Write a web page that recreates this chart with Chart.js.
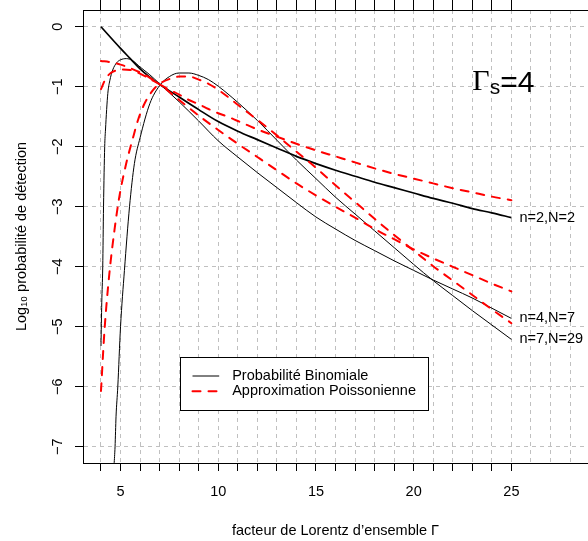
<!DOCTYPE html>
<html>
<head>
<meta charset="utf-8">
<script src="https://cdn.jsdelivr.net/npm/chart.js@4.4.1/dist/chart.umd.min.js"></script>
<style>
  html, body { margin: 0; padding: 0; background: #fff; overflow: hidden; }
</style>
</head>
<body>
<canvas id="chart" width="588" height="541"></canvas>
<script>
// --- values: Gamma (x) vs log10 detection probability (y) ---

// binomial, n=2 N=2
const xBin2 = [4, 5, 5.5, 6, 6.5, 7, 8, 9, 10, 11, 12, 13, 14, 15, 16, 17, 18, 19, 20, 21, 22, 23, 24, 25];
const yBin2 = [0, -0.36, -0.53, -0.7, -0.84, -0.96, -1.17, -1.38, -1.58, -1.74, -1.88, -2.02, -2.16, -2.28, -2.39, -2.49, -2.59, -2.68, -2.77, -2.86, -2.94, -3.03, -3.1, -3.18];

// binomial, n=4 N=7
const xBin4 = [4, 4.04, 4.09, 4.13, 4.19, 4.23, 4.35, 4.45, 4.6, 4.8, 5, 5.3, 5.6, 6, 6.5, 7, 8, 9, 10, 11, 12, 13, 14, 15, 16, 17, 18, 19, 20, 21, 22, 23, 24, 25];
const yBin4 = [-5.32, -4.6, -4.0, -3.0, -2.0, -1.72, -1.11, -0.9, -0.72, -0.6, -0.55, -0.53, -0.56, -0.67, -0.8, -0.95, -1.25, -1.57, -1.9, -2.17, -2.43, -2.68, -2.93, -3.17, -3.37, -3.56, -3.73, -3.9, -4.06, -4.22, -4.37, -4.52, -4.69, -4.86];

// binomial, n=7 N=29
const xBin7 = [4.67, 4.72, 4.77, 4.86, 5, 5.2, 5.46, 5.71, 6, 6.5, 7, 7.5, 8, 8.5, 9, 9.5, 10, 11, 12, 13, 14, 15, 16, 17, 18, 19, 20, 21, 22, 23, 24, 25];
const yBin7 = [-7.3, -7.0, -6.5, -6.0, -5.0, -4.06, -3.0, -2.28, -1.85, -1.28, -0.98, -0.83, -0.77, -0.77, -0.81, -0.88, -0.99, -1.26, -1.56, -1.89, -2.22, -2.53, -2.84, -3.12, -3.4, -3.68, -3.96, -4.23, -4.48, -4.73, -4.97, -5.21];

// Poisson approximation, n=2
const xPoi2 = [4, 4.5, 5, 5.5, 6, 6.5, 7, 7.5, 8, 8.5, 9, 9.5, 10, 10.5, 11, 11.5, 12, 13, 14, 15, 16, 17, 18, 19, 20, 21, 22, 23, 24, 25];
const yPoi2 = [-0.57, -0.59, -0.63, -0.69, -0.76, -0.85, -0.96, -1.05, -1.13, -1.22, -1.29, -1.37, -1.44, -1.5, -1.57, -1.64, -1.71, -1.83, -1.95, -2.06, -2.16, -2.26, -2.36, -2.45, -2.53, -2.61, -2.69, -2.76, -2.83, -2.89];

// Poisson approximation, n=4
const xPoi4 = [4, 4.25, 4.5, 4.75, 5, 5.5, 6, 6.5, 7, 8, 9, 10, 11, 12, 13, 14, 15, 16, 17, 18, 19, 20, 21, 22, 23, 24, 25];
const yPoi4 = [-1.04, -0.86, -0.77, -0.73, -0.71, -0.72, -0.78, -0.87, -0.96, -1.22, -1.48, -1.72, -1.95, -2.17, -2.39, -2.61, -2.81, -3.0, -3.18, -3.37, -3.54, -3.71, -3.86, -4.0, -4.14, -4.28, -4.41];

// Poisson approximation, n=7
const xPoi7 = [4, 4.18, 4.43, 4.69, 4.94, 5.29, 5.63, 5.9, 6.2, 6.6, 7, 7.5, 8, 8.5, 9, 9.5, 10, 10.5, 11, 12, 13, 14, 15, 16, 17, 18, 19, 20, 21, 22, 23, 24, 25];
const yPoi7 = [-6.07, -5.06, -4.11, -3.39, -2.83, -2.28, -1.86, -1.55, -1.3, -1.08, -0.95, -0.87, -0.83, -0.83, -0.88, -0.95, -1.05, -1.17, -1.3, -1.55, -1.81, -2.08, -2.35, -2.64, -2.92, -3.2, -3.47, -3.73, -3.99, -4.23, -4.47, -4.71, -4.94];

// axes
const xGrid = [4, 5, 6, 7, 8, 9, 10, 11, 12, 13, 14, 15, 16, 17, 18, 19, 20, 21, 22, 23, 24, 25, 26, 27, 28];
const xTickMarks = [4, 5, 6, 7, 8, 9, 10, 11, 12, 13, 14, 15, 16, 17, 18, 19, 20, 21, 22, 23, 24, 25];
const xTickLabels = [5, 10, 15, 20, 25];
const yTicks = [-7, -6, -5, -4, -3, -2, -1, 0];

// text
const curveLabels = ['n=2,N=2', 'n=4,N=7', 'n=7,N=29'];
const legendLabels = ['Probabilité Binomiale', 'Approximation Poissonienne'];
const xTitle = 'facteur de Lorentz d\u2019ensemble \u0393';
const yTitle = 'Log\u2081\u2080 probabilité de détection';

const SANS = '"Liberation Sans", Arial, Helvetica, sans-serif';
const SERIF = '"Liberation Serif", "Times New Roman", serif';
Chart.defaults.font.family = SANS;
Chart.defaults.font.size = 14.5;
Chart.defaults.color = '#000';

const pts = (xs, ys) => xs.map((v, i) => ({x: v, y: ys[i]}));
const black = (data, w) => ({
  data, borderColor: '#000', borderWidth: w, pointRadius: 0,
  cubicInterpolationMode: 'monotone', clip: 0
});
const red = data => ({
  data, borderColor: '#ff0000', borderWidth: 2, borderDash: [8, 8],
  borderCapStyle: 'round', pointRadius: 0, cubicInterpolationMode: 'monotone', clip: 0
});

const minus = v => (v < 0 ? '\u2212' + Math.abs(v) : String(v));
const setTicks = vals => axis => { axis.ticks = vals.map(value => ({value})); };

// --- curve labels, Gamma_s text and the boxed legend ---
const annotations = {
  id: 'annotations',
  afterDraw(chart, args, opts) {
    const {ctx, scales: {x, y}} = chart;
    ctx.save();

    // labels at the right end of the binomial curves
    ctx.font = '14.5px ' + SANS;
    ctx.fillStyle = '#000';
    ctx.textBaseline = 'middle';
    ctx.textAlign = 'left';
    const ends = [yBin2, yBin4, yBin7].map(a => a[a.length - 1]);
    curveLabels.forEach((t, i) => {
      ctx.fillText(t, x.getPixelForValue(25) + 8, y.getPixelForValue(ends[i]));
    });

    // Gamma_s = 4
    let gx = x.getPixelForValue(opts.gammaAt[0]);
    const gy = y.getPixelForValue(opts.gammaAt[1]);
    ctx.textBaseline = 'alphabetic';
    ctx.font = '30px ' + SERIF;
    ctx.fillText('\u0393', gx, gy);
    gx += ctx.measureText('\u0393').width;
    ctx.font = '21px ' + SANS;
    ctx.fillText('s', gx, gy + 4);
    gx += ctx.measureText('s').width;
    ctx.font = '30px ' + SANS;
    ctx.fillText('=4', gx, gy + 2);

    // legend
    const left = Math.round(x.getPixelForValue(opts.legendAt[0])) + 0.5;
    const top = Math.round(y.getPixelForValue(opts.legendAt[1])) + 0.5;
    const w = 248, h = 53;
    ctx.fillStyle = '#fff';
    ctx.fillRect(left, top, w, h);
    ctx.strokeStyle = '#000';
    ctx.lineWidth = 1;
    ctx.strokeRect(left, top, w, h);
    const rows = [top + 18, top + 33.7];
    ctx.beginPath();
    ctx.moveTo(left + 12, Math.round(rows[0]));
    ctx.lineTo(left + 38.7, Math.round(rows[0]));
    ctx.stroke();
    ctx.strokeStyle = '#ff0000';
    ctx.lineWidth = 2;
    ctx.lineCap = 'round';
    ctx.setLineDash([8, 8]);
    ctx.beginPath();
    ctx.moveTo(left + 12, rows[1]);
    ctx.lineTo(left + 38.7, rows[1]);
    ctx.stroke();
    ctx.setLineDash([]);
    ctx.fillStyle = '#000';
    ctx.font = '14.5px ' + SANS;
    ctx.textBaseline = 'middle';
    legendLabels.forEach((t, i) => ctx.fillText(t, left + 51.7, rows[i]));
    ctx.restore();
  }
};

new Chart(document.getElementById('chart'), {
  type: 'line',
  data: {
    datasets: [
      red(pts(xPoi2, yPoi2)),
      red(pts(xPoi4, yPoi4)),
      red(pts(xPoi7, yPoi7)),
      black(pts(xBin2, yBin2), 1.7),
      black(pts(xBin4, yBin4), 1),
      black(pts(xBin7, yBin7), 1)
    ]
  },
  options: {
    responsive: false,
    animation: false,
    events: [],
    layout: {padding: 0},
    plugins: {
      legend: {display: false},
      tooltip: {enabled: false},
      annotations: {gammaAt: [23.0, -1.06], legendAt: [8.03, -5.5]}
    },
    scales: {
      x: {
        type: 'linear', position: 'bottom', min: 3.08, max: 28.92,
        afterBuildTicks: setTicks(xGrid),
        afterFit: s => { s.height = 78; s.paddingLeft = 0; s.paddingRight = 0; },
        ticks: {
          autoSkip: false, maxRotation: 0, padding: 12,
          callback: v => (xTickLabels.includes(v) ? String(v) : '')
        },
        grid: {
          color: '#c0c0c0', lineWidth: 1, tickLength: 8, tickWidth: 1,
          tickColor: c => (c.tick && xTickMarks.includes(c.tick.value) ? '#000' : 'rgba(0,0,0,0)')
        },
        border: {display: true, color: '#000', width: 1, dash: [4, 4]},
        title: {display: true, text: xTitle, padding: {top: 0, bottom: 1}}
      },
      x2: {
        type: 'linear', position: 'top', min: 3.08, max: 28.92,
        afterBuildTicks: setTicks(xTickMarks),
        afterFit: s => { s.height = 10; s.paddingLeft = 0; s.paddingRight = 0; },
        ticks: {display: false},
        grid: {drawOnChartArea: false, tickLength: 10, tickColor: '#000', tickWidth: 1},
        border: {display: true, color: '#000', width: 1}
      },
      y: {
        type: 'linear', position: 'left', min: -7.27, max: 0.28,
        afterBuildTicks: setTicks(yTicks),
        afterFit: s => { s.width = 83; s.paddingTop = 0; s.paddingBottom = 0; },
        ticks: {
          autoSkip: false, minRotation: 90, maxRotation: 90, crossAlign: 'center',
          padding: 9, callback: v => minus(v)
        },
        grid: {color: '#c0c0c0', lineWidth: 1, tickLength: 8, tickColor: '#000', tickWidth: 1},
        border: {display: true, color: '#000', width: 1, dash: [4, 4]},
        title: {display: true, text: yTitle, padding: {top: 13, bottom: 0}}
      }
    }
  },
  plugins: [annotations]
});
</script>
</body>
</html>
